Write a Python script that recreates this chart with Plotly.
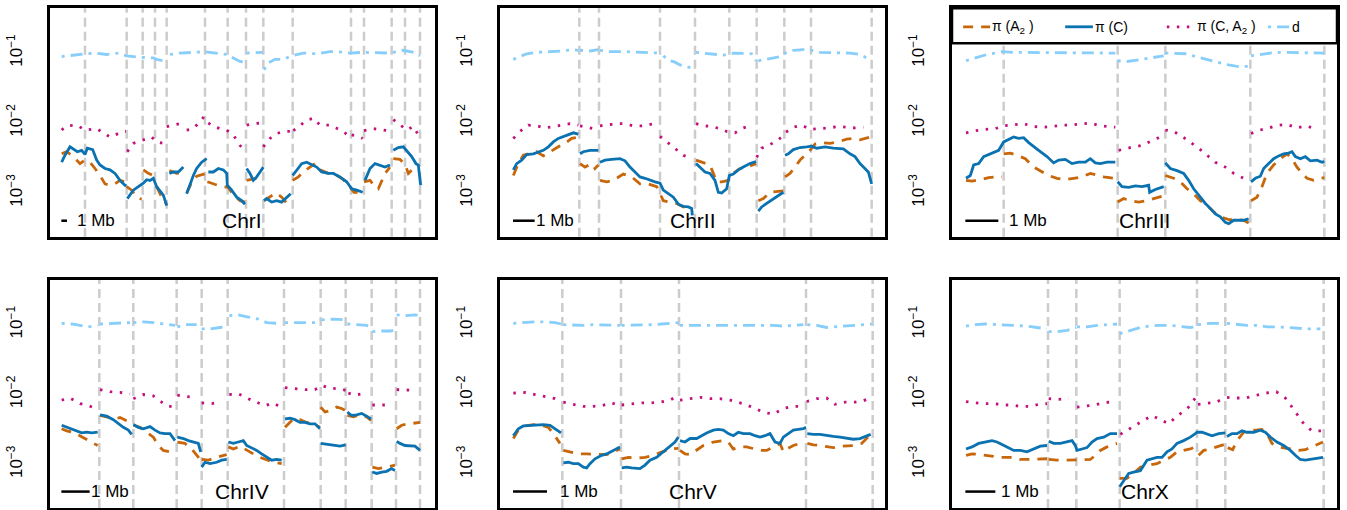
import plotly.graph_objects as go

# ---------------------------------------------------------------
# Data: genomic position (scaled units, see scale bars) and log10 values
# each series is a list of contiguous segments of (position, log10 value)
# ---------------------------------------------------------------
chromosomes = ["ChrI", "ChrII", "ChrIII", "ChrIV", "ChrV", "ChrX"]

chrI_breaks = [255, 380, 428, 465, 500, 615, 683, 738, 790, 878, 1053, 1092, 1175, 1215, 1260]
chrI_piA2 = [
    [(185, -2.44), (200, -2.41), (220, -2.48), (240, -2.58), (255, -2.53), (270, -2.56), (285, -2.65), (300, -2.75), (315, -2.87), (330, -2.89), (345, -2.87), (360, -2.82), (375, -2.84)],
    [(380, -2.91), (395, -2.96), (410, -3.06), (425, -3.09)],
    [(430, -2.67), (445, -2.72), (460, -2.75)],
    [(470, -2.91), (485, -3.06), (500, -3.16)],
    [(508, -2.68), (530, -2.72), (550, -2.71)],
    [(560, -3.00), (575, -2.85), (590, -2.76), (605, -2.74), (620, -2.72)],
    [(622, -2.84), (645, -2.88), (665, -2.91), (685, -2.92), (700, -3.03), (720, -3.11), (735, -3.13)],
    [(740, -2.82), (765, -2.79), (790, -2.77)],
    [(792, -3.11), (810, -3.06), (828, -3.00), (845, -3.06), (860, -3.15), (870, -3.20)],
    [(878, -2.82), (895, -2.77), (915, -2.68), (945, -2.58), (960, -2.67), (985, -2.72), (1005, -2.73), (1030, -2.81), (1050, -2.91), (1062, -2.99), (1088, -2.99)],
    [(1092, -2.84), (1110, -2.82), (1125, -2.91), (1135, -2.94), (1155, -2.72), (1170, -2.63)],
    [(1180, -2.51), (1200, -2.52), (1215, -2.59), (1225, -2.72), (1240, -2.65), (1255, -2.65)],
]
chrI_piC = [
    [(185, -2.56), (195, -2.46), (210, -2.34), (222, -2.38), (232, -2.41), (245, -2.39), (255, -2.45), (262, -2.36), (278, -2.38), (290, -2.53), (300, -2.60), (315, -2.65), (330, -2.67), (345, -2.72), (360, -2.82), (375, -2.89), (380, -2.89)],
    [(382, -3.08), (390, -3.03), (400, -2.96), (415, -2.91), (430, -2.86), (440, -2.81), (450, -2.82), (460, -2.79), (465, -2.84), (470, -2.91), (480, -2.97), (490, -3.03), (500, -3.18)],
    [(508, -2.72), (520, -2.70), (535, -2.70), (550, -2.63)],
    [(560, -3.01), (570, -2.87), (580, -2.75), (590, -2.65), (605, -2.56), (620, -2.51)],
    [(625, -2.70), (640, -2.70), (655, -2.65), (670, -2.67), (680, -2.72), (682, -2.89), (695, -2.96), (710, -3.06), (725, -3.11), (735, -3.16)],
    [(740, -2.65), (750, -2.72), (760, -2.82), (770, -2.77), (780, -2.70), (790, -2.63)],
    [(792, -3.11), (800, -3.08), (815, -3.13), (830, -3.11), (845, -3.13), (860, -3.06), (872, -3.01)],
    [(878, -2.75), (890, -2.67), (905, -2.58), (920, -2.56), (935, -2.60), (950, -2.63), (965, -2.70), (985, -2.72), (1000, -2.72), (1020, -2.77), (1040, -2.84), (1055, -2.94), (1070, -2.96), (1088, -2.99)],
    [(1095, -2.82), (1110, -2.65), (1125, -2.58), (1140, -2.60), (1155, -2.63), (1170, -2.60)],
    [(1180, -2.39), (1195, -2.35), (1210, -2.34), (1222, -2.41), (1235, -2.48), (1248, -2.58), (1255, -2.60), (1262, -2.89)],
]
chrI_piCA2 = [
    [(185, -2.10), (200, -2.04), (230, -2.03), (255, -2.10), (290, -2.08), (330, -2.20), (370, -2.12), (378, -2.12)],
    [(382, -2.41), (400, -2.29), (430, -2.24), (455, -2.20), (470, -2.27), (490, -2.29)],
    [(500, -2.05), (520, -2.03), (550, -2.00)],
    [(560, -2.10), (580, -2.08), (600, -1.98), (612, -1.91)],
    [(625, -2.00), (640, -2.05), (660, -2.08), (680, -2.10), (700, -2.17), (720, -2.32), (735, -2.39)],
    [(740, -2.03), (760, -2.01), (785, -2.00)],
    [(790, -2.34), (810, -2.22), (830, -2.15), (850, -2.12), (870, -2.12)],
    [(880, -2.11), (900, -2.03), (920, -1.96), (940, -1.93), (960, -2.03), (990, -2.03), (1010, -2.08), (1030, -2.12), (1050, -2.20)],
    [(1055, -2.17), (1075, -2.19), (1088, -2.22)],
    [(1092, -2.11), (1120, -2.08), (1150, -2.10), (1175, -2.12)],
    [(1180, -1.95), (1200, -2.03), (1220, -2.10), (1240, -2.05), (1255, -2.17)],
]
chrI_d = [
    [(185, -1.05), (230, -1.02), (255, -1.01), (285, -1.00), (320, -1.02), (355, -1.00), (380, -1.04), (420, -1.06), (460, -1.07), (470, -1.09), (500, -1.12)],
    [(510, -1.02), (540, -1.00), (580, -0.99), (615, -0.98), (660, -1.01), (683, -1.02), (700, -1.07), (720, -1.12), (735, -1.13)],
    [(740, -1.00), (770, -0.99), (788, -0.99)],
    [(792, -1.24), (805, -1.14), (825, -1.09), (850, -1.09), (875, -1.04), (910, -1.00), (950, -1.01), (990, -0.98), (1010, -0.98), (1050, -1.00), (1088, -0.99), (1130, -0.99), (1170, -1.00), (1210, -0.96), (1240, -0.99), (1260, -1.04)],
]

chrII_breaks = [388, 447, 630, 735, 838, 920, 1003, 1083, 1265]
chrII_piA2 = [
    [(190, -2.75), (205, -2.58), (220, -2.46), (240, -2.44), (260, -2.41), (280, -2.47), (300, -2.41), (325, -2.34), (345, -2.29), (365, -2.22), (385, -2.20)],
    [(390, -2.58), (405, -2.63), (425, -2.58), (435, -2.65), (445, -2.60)],
    [(450, -2.82), (470, -2.84), (490, -2.82), (520, -2.73), (545, -2.77), (570, -2.87), (595, -2.87), (620, -2.91), (640, -3.11), (660, -3.13), (680, -3.15), (700, -3.20), (725, -3.22)],
    [(738, -2.53), (755, -2.56), (780, -2.60), (790, -2.72), (800, -2.84), (815, -2.84), (835, -2.82), (850, -2.72), (870, -2.65), (890, -2.63), (918, -2.58)],
    [(925, -3.11), (940, -3.08), (960, -2.99), (985, -2.98), (1000, -2.97)],
    [(1005, -2.77), (1020, -2.72), (1035, -2.63), (1050, -2.53), (1065, -2.46), (1080, -2.39), (1095, -2.30), (1115, -2.28), (1140, -2.29), (1165, -2.27), (1190, -2.23), (1210, -2.22), (1230, -2.24), (1250, -2.22), (1262, -2.20)],
]
chrII_piC = [
    [(190, -2.67), (200, -2.58), (215, -2.53), (230, -2.45), (250, -2.44), (265, -2.41), (280, -2.39), (295, -2.34), (310, -2.27), (325, -2.22), (340, -2.19), (355, -2.16), (370, -2.14), (385, -2.16)],
    [(390, -2.44), (400, -2.41), (420, -2.39), (445, -2.39)],
    [(450, -2.56), (465, -2.53), (485, -2.52), (510, -2.51), (525, -2.54), (540, -2.63), (555, -2.70), (570, -2.77), (585, -2.79), (600, -2.82), (615, -2.84), (630, -2.86), (640, -2.96), (655, -3.01), (670, -3.06), (685, -3.16), (700, -3.19), (715, -3.20), (725, -3.22), (727, -3.32)],
    [(738, -2.58), (750, -2.63), (765, -2.70), (780, -2.72), (795, -2.82), (805, -2.99), (815, -3.00), (830, -2.94), (838, -2.75), (850, -2.73), (865, -2.67), (880, -2.63), (900, -2.58), (918, -2.55)],
    [(925, -3.26), (935, -3.20), (950, -3.15), (965, -3.10), (980, -3.05), (1000, -2.99)],
    [(1005, -2.46), (1015, -2.44), (1030, -2.38), (1050, -2.35), (1070, -2.34), (1085, -2.33), (1100, -2.36), (1125, -2.34), (1150, -2.36), (1180, -2.37), (1200, -2.44), (1215, -2.48), (1230, -2.58), (1245, -2.65), (1255, -2.70), (1265, -2.87)],
]
chrII_piCA2 = [
    [(190, -2.22), (210, -2.12), (235, -2.03), (260, -2.04), (285, -2.07), (310, -2.05), (335, -2.03), (360, -2.01), (385, -2.03)],
    [(390, -2.04), (410, -2.06), (440, -2.09)],
    [(450, -2.04), (475, -2.02), (500, -2.01), (525, -2.01), (550, -2.04), (575, -2.04), (600, -2.02), (625, -2.00)],
    [(630, -2.19), (655, -2.29), (680, -2.38), (700, -2.46), (725, -2.52)],
    [(738, -2.01), (760, -2.04), (785, -2.05), (810, -2.08), (830, -2.12), (855, -2.14), (880, -2.07), (905, -2.03)],
    [(920, -2.49), (935, -2.36), (955, -2.32), (975, -2.27), (995, -2.20), (1005, -2.14), (1030, -2.06), (1055, -2.03), (1080, -2.09), (1110, -2.08), (1135, -2.07), (1165, -2.05), (1190, -2.06), (1215, -2.07), (1240, -2.06)],
]
chrII_d = [
    [(190, -1.09), (210, -1.05), (230, -1.01), (260, -0.99), (300, -0.98), (335, -0.97), (370, -0.95), (385, -0.96)],
    [(390, -0.96), (420, -0.97), (445, -0.95)],
    [(450, -0.96), (480, -0.98), (530, -0.98), (570, -0.99), (600, -0.99), (630, -1.00)],
    [(640, -1.04), (655, -1.10), (675, -1.13), (690, -1.17), (705, -1.19), (722, -1.21)],
    [(738, -0.99), (760, -1.00), (790, -1.01), (820, -1.03), (850, -1.00), (880, -1.00), (905, -1.01), (918, -1.11)],
    [(925, -1.11), (945, -1.09), (970, -1.06), (990, -1.05), (1005, -1.00), (1030, -0.96), (1060, -0.95), (1085, -0.96), (1110, -0.99), (1140, -0.99), (1170, -0.99), (1200, -1.00), (1230, -1.02), (1262, -1.10)],
]

chrIII_breaks = [310, 652, 795, 1050, 1272]
chrIII_piA2 = [
    [(197, -2.82), (215, -2.83), (240, -2.81), (265, -2.78), (290, -2.77), (305, -2.77)],
    [(310, -2.44), (330, -2.43), (350, -2.46), (375, -2.51), (400, -2.63), (425, -2.70), (445, -2.75), (470, -2.79), (495, -2.81), (520, -2.79), (545, -2.77), (570, -2.72), (590, -2.75), (610, -2.77), (640, -2.79), (648, -2.78)],
    [(652, -3.13), (670, -3.08), (690, -3.11), (715, -3.13), (740, -3.11), (760, -3.08), (780, -3.06), (790, -3.04)],
    [(795, -2.75), (820, -2.79), (840, -2.84), (860, -2.94), (880, -3.01), (900, -3.11), (920, -3.18), (940, -3.27), (960, -3.34), (985, -3.38), (1010, -3.38), (1030, -3.39), (1045, -3.43)],
    [(1052, -3.11), (1070, -3.06), (1085, -2.91), (1100, -2.72), (1120, -2.60), (1140, -2.51), (1160, -2.44), (1175, -2.51), (1190, -2.63), (1205, -2.72), (1220, -2.79), (1240, -2.82), (1260, -2.79), (1272, -2.78)],
]
chrIII_piC = [
    [(197, -2.79), (210, -2.75), (220, -2.60), (235, -2.58), (250, -2.48), (265, -2.45), (280, -2.43), (295, -2.39), (310, -2.27), (325, -2.23), (340, -2.20), (355, -2.22), (370, -2.21), (385, -2.28), (400, -2.34), (420, -2.41), (440, -2.48), (460, -2.57), (475, -2.53), (495, -2.52), (515, -2.58), (535, -2.56), (555, -2.56), (570, -2.51), (585, -2.57), (600, -2.58), (620, -2.56), (645, -2.56)],
    [(652, -2.84), (665, -2.91), (685, -2.92), (705, -2.90), (725, -2.91), (745, -2.89), (748, -2.99), (765, -2.95), (790, -2.91)],
    [(795, -2.57), (810, -2.65), (830, -2.68), (850, -2.72), (865, -2.82), (880, -2.94), (900, -3.06), (915, -3.15), (930, -3.22), (945, -3.30), (960, -3.34), (975, -3.42), (985, -3.44), (1000, -3.39), (1015, -3.39), (1030, -3.39), (1045, -3.37)],
    [(1052, -2.84), (1065, -2.79), (1080, -2.76), (1090, -2.65), (1105, -2.58), (1120, -2.51), (1135, -2.47), (1150, -2.44), (1165, -2.43), (1175, -2.41), (1185, -2.48), (1200, -2.51), (1215, -2.48), (1230, -2.54), (1250, -2.53), (1265, -2.56), (1272, -2.55)],
]
chrIII_piCA2 = [
    [(197, -2.14), (225, -2.11), (255, -2.09), (285, -2.08), (310, -2.04), (340, -2.03), (370, -2.01), (400, -2.05), (430, -2.06), (455, -2.05), (485, -2.03), (510, -2.03), (540, -2.02), (570, -2.00), (600, -2.04), (630, -2.05), (645, -2.06)],
    [(655, -2.39), (680, -2.36), (700, -2.34), (725, -2.32), (750, -2.27), (770, -2.22), (790, -2.17)],
    [(795, -2.10), (820, -2.12), (845, -2.19), (870, -2.27), (895, -2.36), (920, -2.46), (945, -2.56), (975, -2.63), (1000, -2.72), (1030, -2.79), (1045, -2.83)],
    [(1052, -2.15), (1080, -2.10), (1105, -2.07), (1135, -2.03), (1160, -2.02), (1190, -2.07), (1215, -2.04), (1245, -2.08)],
]
chrIII_d = [
    [(197, -1.11), (230, -1.06), (260, -1.02), (285, -1.00), (305, -0.98), (340, -0.99), (370, -0.99), (400, -1.00), (430, -0.99), (470, -1.00), (500, -0.99), (540, -0.99), (580, -0.99), (620, -0.99), (645, -1.00)],
    [(652, -1.11), (680, -1.12), (710, -1.10), (740, -1.08), (765, -1.06), (790, -1.04)],
    [(795, -1.00), (830, -1.00), (860, -1.01), (885, -1.05), (910, -1.08), (935, -1.12), (960, -1.14), (985, -1.17), (1010, -1.19), (1045, -1.19)],
    [(1052, -1.04), (1080, -1.02), (1110, -1.00), (1140, -0.99), (1170, -0.99), (1200, -0.99), (1240, -0.99), (1272, -1.00)],
]

chrIV_breaks = [298, 400, 530, 605, 683, 852, 962, 1037, 1115, 1188, 1260]
chrIV_piA2 = [
    [(185, -2.49), (200, -2.52), (220, -2.54), (240, -2.59), (255, -2.63), (275, -2.68), (293, -2.73)],
    [(300, -2.30), (320, -2.32), (345, -2.35), (360, -2.33), (375, -2.36), (395, -2.41)],
    [(400, -2.44), (420, -2.47), (440, -2.54), (460, -2.61), (475, -2.73), (490, -2.80), (510, -2.82), (528, -2.82)],
    [(532, -2.68), (555, -2.70), (575, -2.78), (595, -2.90), (602, -2.94)],
    [(605, -2.93), (625, -2.94), (650, -2.90), (680, -2.86)],
    [(685, -2.75), (700, -2.78), (720, -2.74), (740, -2.80), (760, -2.85), (780, -2.90), (800, -2.94), (820, -2.97), (845, -2.99)],
    [(855, -2.47), (865, -2.42), (880, -2.35), (900, -2.36), (920, -2.40), (940, -2.42), (960, -2.47)],
    [(962, -2.18), (975, -2.25), (990, -2.23), (1010, -2.18), (1025, -2.20), (1037, -2.23)],
    [(1042, -2.30), (1060, -2.32), (1080, -2.29), (1100, -2.32), (1113, -2.37)],
    [(1117, -3.04), (1135, -3.06), (1160, -3.04), (1185, -3.01)],
    [(1190, -2.49), (1205, -2.44), (1225, -2.42), (1245, -2.41), (1260, -2.40)],
]
chrIV_piC = [
    [(185, -2.44), (200, -2.47), (215, -2.49), (230, -2.52), (245, -2.55), (260, -2.54), (275, -2.55), (293, -2.54)],
    [(300, -2.29), (320, -2.31), (340, -2.36), (355, -2.42), (370, -2.47), (385, -2.51), (395, -2.57)],
    [(400, -2.43), (415, -2.47), (430, -2.49), (450, -2.46), (465, -2.51), (480, -2.55), (495, -2.56), (510, -2.56), (525, -2.66)],
    [(532, -2.61), (550, -2.63), (565, -2.66), (580, -2.68), (595, -2.70), (602, -2.82)],
    [(605, -3.04), (615, -2.97), (630, -2.99), (650, -2.97), (665, -2.94), (680, -2.93)],
    [(685, -2.68), (700, -2.70), (715, -2.68), (730, -2.66), (740, -2.73), (755, -2.76), (770, -2.80), (785, -2.85), (800, -2.90), (815, -2.94), (830, -2.93), (845, -2.94)],
    [(855, -2.35), (870, -2.34), (885, -2.36), (900, -2.40), (915, -2.40), (930, -2.42), (945, -2.42), (960, -2.49)],
    [(962, -2.70), (980, -2.71), (1000, -2.73), (1020, -2.74), (1037, -2.72)],
    [(1042, -2.25), (1055, -2.30), (1070, -2.29), (1085, -2.27), (1100, -2.31), (1113, -2.35)],
    [(1117, -3.11), (1130, -3.13), (1145, -3.11), (1160, -3.10), (1175, -3.06), (1185, -3.09)],
    [(1190, -2.67), (1200, -2.70), (1215, -2.73), (1230, -2.74), (1245, -2.74), (1260, -2.80)],
]
chrIV_piCA2 = [
    [(185, -2.08), (210, -2.05), (240, -2.13), (265, -2.16), (293, -2.21)],
    [(300, -1.93), (330, -1.96), (360, -1.97), (390, -1.99)],
    [(400, -2.06), (430, -2.00), (460, -2.02), (500, -2.16), (525, -2.18)],
    [(532, -2.01), (560, -2.03), (590, -2.04)],
    [(605, -2.12), (635, -2.13), (660, -2.11)],
    [(688, -2.00), (715, -1.99), (745, -2.06), (770, -2.11), (795, -2.16), (820, -2.12), (845, -2.19)],
    [(855, -1.90), (890, -1.92), (915, -1.93), (945, -1.93), (965, -1.87), (990, -1.91), (1020, -1.92), (1037, -1.94)],
    [(1045, -1.98), (1065, -2.01), (1095, -1.98)],
    [(1117, -2.15), (1140, -2.15), (1170, -2.15)],
    [(1190, -1.93), (1215, -1.93), (1245, -1.94)],
]
chrIV_d = [
    [(185, -0.98), (215, -0.99), (240, -1.01), (265, -1.03), (293, -1.01)],
    [(300, -0.99), (330, -0.98), (360, -0.98), (390, -0.97)],
    [(400, -0.97), (430, -0.96), (460, -0.97), (490, -0.99), (525, -1.01)],
    [(532, -1.03), (560, -1.00), (590, -1.00)],
    [(605, -1.06), (630, -1.06), (660, -1.04), (680, -1.03)],
    [(688, -0.87), (715, -0.86), (745, -0.89), (775, -0.92), (800, -0.97), (830, -0.98), (845, -0.97)],
    [(855, -0.97), (890, -0.97), (920, -0.98), (950, -0.97), (962, -0.93)],
    [(965, -0.93), (1000, -0.92), (1037, -0.93)],
    [(1042, -0.99), (1070, -1.00), (1100, -1.01), (1113, -1.03)],
    [(1117, -1.10), (1140, -1.09), (1170, -1.09), (1185, -1.08)],
    [(1190, -0.86), (1215, -0.87), (1245, -0.86), (1255, -0.87)],
]

chrV_breaks = [337, 513, 687, 1068, 1268]
chrV_piA2 = [
    [(190, -2.63), (205, -2.51), (225, -2.45), (250, -2.43), (275, -2.44), (295, -2.47), (310, -2.56), (330, -2.70)],
    [(340, -2.80), (360, -2.82), (385, -2.85), (410, -2.85), (440, -2.85), (470, -2.86), (500, -2.80), (510, -2.78)],
    [(515, -2.92), (535, -2.90), (560, -2.91), (585, -2.90), (610, -2.87), (635, -2.82), (660, -2.78), (685, -2.77)],
    [(690, -2.80), (705, -2.85), (720, -2.86), (740, -2.80), (760, -2.73), (790, -2.68), (820, -2.66), (835, -2.68), (850, -2.78), (870, -2.75), (890, -2.75), (915, -2.78), (935, -2.80), (950, -2.80), (970, -2.75), (990, -2.70), (1000, -2.82), (1010, -2.78), (1030, -2.73), (1050, -2.70), (1065, -2.68)],
    [(1072, -2.70), (1090, -2.72), (1110, -2.73), (1130, -2.75), (1150, -2.76), (1170, -2.74), (1190, -2.73), (1210, -2.73), (1235, -2.70), (1262, -2.57)],
]
chrV_piC = [
    [(190, -2.59), (205, -2.49), (220, -2.45), (240, -2.44), (260, -2.43), (280, -2.43), (300, -2.44), (315, -2.49), (333, -2.55)],
    [(340, -2.98), (355, -2.97), (370, -2.99), (385, -2.99), (400, -3.04), (410, -3.05), (420, -2.99), (435, -2.92), (455, -2.87), (470, -2.85), (490, -2.80), (510, -2.75)],
    [(515, -3.05), (530, -3.04), (545, -3.05), (560, -3.05), (570, -3.06), (585, -3.01), (600, -2.94), (620, -2.90), (640, -2.82), (660, -2.75), (675, -2.68), (685, -2.61)],
    [(690, -2.66), (705, -2.68), (720, -2.63), (740, -2.63), (755, -2.59), (770, -2.55), (790, -2.51), (805, -2.50), (820, -2.51), (835, -2.56), (850, -2.59), (865, -2.54), (880, -2.56), (900, -2.56), (915, -2.59), (930, -2.61), (945, -2.59), (960, -2.56), (975, -2.68), (990, -2.70), (1000, -2.61), (1015, -2.56), (1030, -2.51), (1045, -2.50), (1060, -2.49), (1068, -2.47)],
    [(1072, -2.56), (1090, -2.57), (1110, -2.57), (1130, -2.59), (1150, -2.60), (1170, -2.61), (1190, -2.63), (1210, -2.64), (1230, -2.63), (1250, -2.59), (1262, -2.57)],
]
chrV_piCA2 = [
    [(190, -1.98), (225, -1.97), (255, -2.00), (285, -2.03), (315, -2.06), (333, -2.10)],
    [(340, -2.11), (370, -2.14), (400, -2.17), (425, -2.17), (455, -2.16), (485, -2.12), (510, -2.16)],
    [(515, -2.15), (545, -2.13), (575, -2.12), (600, -2.12), (630, -2.11), (660, -2.08), (685, -2.01)],
    [(690, -2.08), (720, -2.06), (750, -2.04), (780, -2.06), (810, -2.06), (840, -2.08), (860, -2.11), (885, -2.14), (915, -2.20), (945, -2.26), (970, -2.28), (1000, -2.20), (1030, -2.17), (1055, -2.17)],
    [(1070, -2.10), (1100, -2.06), (1130, -2.05), (1155, -2.14), (1185, -2.11), (1215, -2.11), (1240, -2.09), (1265, -2.04)],
]
chrV_d = [
    [(190, -0.98), (220, -0.97), (255, -0.96), (285, -0.96), (315, -0.97), (333, -0.99)],
    [(340, -1.00), (370, -1.01), (400, -1.01), (430, -1.00), (460, -1.00), (490, -1.00), (510, -1.01)],
    [(515, -1.01), (545, -1.01), (575, -1.01), (605, -1.00), (635, -0.99), (665, -0.98), (685, -0.97)],
    [(690, -1.01), (720, -1.01), (755, -1.01), (790, -1.00), (820, -1.00), (850, -1.00), (880, -1.01), (910, -1.01), (940, -1.01), (970, -1.01), (1000, -1.02), (1030, -1.01), (1060, -1.00)],
    [(1072, -1.00), (1100, -1.01), (1130, -1.04), (1160, -1.03), (1190, -1.02), (1220, -1.01), (1265, -0.99)],
]

chrX_breaks = [443, 528, 658, 890, 975, 1270]
chrX_piA2 = [
    [(197, -2.87), (215, -2.85), (240, -2.86), (270, -2.88), (300, -2.90), (330, -2.90), (360, -2.93), (390, -2.93), (420, -2.93), (440, -2.92)],
    [(445, -2.93), (470, -2.94), (500, -2.94), (530, -2.94), (555, -2.94), (570, -2.93), (585, -2.87), (600, -2.80), (620, -2.75), (650, -2.70)],
    [(658, -3.20), (680, -3.20), (700, -3.13), (720, -3.04), (745, -3.01), (770, -2.99), (790, -2.94), (810, -2.90), (830, -2.82), (850, -2.80), (870, -2.78), (885, -2.75)],
    [(895, -2.87), (910, -2.80), (930, -2.78), (950, -2.75), (965, -2.73), (975, -2.71)],
    [(982, -2.76), (997, -2.79), (1010, -2.66), (1030, -2.54), (1050, -2.52), (1070, -2.51), (1085, -2.50), (1100, -2.56), (1115, -2.70), (1135, -2.75), (1155, -2.77), (1175, -2.79), (1195, -2.80), (1215, -2.79), (1240, -2.74), (1268, -2.68)],
]
chrX_piC = [
    [(197, -2.78), (215, -2.75), (235, -2.70), (255, -2.68), (275, -2.66), (290, -2.68), (305, -2.71), (320, -2.75), (340, -2.80), (360, -2.80), (380, -2.82), (400, -2.78), (420, -2.74), (440, -2.73)],
    [(445, -2.67), (460, -2.70), (480, -2.70), (500, -2.68), (515, -2.66), (525, -2.73), (530, -2.80), (545, -2.78), (560, -2.76), (575, -2.68), (590, -2.63), (610, -2.61), (630, -2.56), (650, -2.56)],
    [(658, -3.32), (670, -3.23), (685, -3.13), (700, -3.11), (720, -3.09), (740, -2.94), (755, -2.92), (770, -2.90), (785, -2.90), (800, -2.82), (815, -2.78), (830, -2.70), (850, -2.66), (870, -2.61), (885, -2.56), (890, -2.54), (905, -2.54), (920, -2.56), (935, -2.59), (955, -2.56), (975, -2.55)],
    [(980, -2.60), (995, -2.56), (1010, -2.56), (1025, -2.52), (1040, -2.54), (1060, -2.54), (1080, -2.51), (1095, -2.54), (1110, -2.61), (1130, -2.68), (1150, -2.73), (1170, -2.80), (1185, -2.87), (1200, -2.93), (1215, -2.94), (1230, -2.93), (1250, -2.92), (1268, -2.90)],
]
chrX_piCA2 = [
    [(197, -2.10), (225, -2.12), (255, -2.13), (280, -2.13), (310, -2.15), (335, -2.15), (360, -2.17), (390, -2.17), (415, -2.14), (440, -2.13)],
    [(445, -2.06), (475, -2.07), (505, -2.05)],
    [(530, -2.18), (555, -2.17), (580, -2.15), (610, -2.12), (640, -2.10)],
    [(660, -2.57), (680, -2.51), (705, -2.44), (730, -2.37), (755, -2.30), (780, -2.36), (805, -2.42), (825, -2.33), (845, -2.25), (865, -2.18), (888, -2.03)],
    [(893, -2.14), (920, -2.13), (948, -2.11), (972, -2.05)],
    [(980, -2.04), (1005, -2.05), (1035, -2.05), (1065, -2.01), (1095, -1.98), (1128, -1.96), (1155, -2.05), (1175, -2.18), (1195, -2.31), (1212, -2.43), (1235, -2.52), (1262, -2.52)],
]
chrX_d = [
    [(197, -1.02), (225, -1.00), (255, -0.99), (290, -1.00), (320, -1.01), (350, -1.01), (380, -1.02), (410, -1.04), (440, -1.06)],
    [(445, -1.10), (470, -1.10), (500, -1.08), (528, -1.04)],
    [(530, -1.03), (560, -1.03), (590, -1.01), (620, -1.00), (650, -0.99)],
    [(658, -1.13), (680, -1.10), (700, -1.07), (720, -1.04), (745, -1.02), (775, -1.01), (810, -1.01), (840, -1.03), (870, -1.04), (888, -1.02)],
    [(893, -1.00), (930, -0.98), (960, -0.98), (975, -0.99)],
    [(980, -0.98), (1010, -1.00), (1040, -1.01), (1070, -1.01), (1100, -1.03), (1130, -1.03), (1160, -1.04), (1190, -1.06), (1220, -1.06), (1260, -1.06)],
]

# 1 Mb scale bar (start, end) in the same position units
scale_bars = [(184, 201), (189, 254), (195, 294), (184, 269), (189, 291), (195, 285)]

series_names = ["π (A<sub>2</sub> )", "π (C)", "π (C, A<sub>2</sub> )", "d"]

all_data = [
    (chrI_piA2, chrI_piC, chrI_piCA2, chrI_d, chrI_breaks),
    (chrII_piA2, chrII_piC, chrII_piCA2, chrII_d, chrII_breaks),
    (chrIII_piA2, chrIII_piC, chrIII_piCA2, chrIII_d, chrIII_breaks),
    (chrIV_piA2, chrIV_piC, chrIV_piCA2, chrIV_d, chrIV_breaks),
    (chrV_piA2, chrV_piC, chrV_piCA2, chrV_d, chrV_breaks),
    (chrX_piA2, chrX_piC, chrX_piCA2, chrX_d, chrX_breaks),
]

# ---------------------------------------------------------------
# Styling / layout
# ---------------------------------------------------------------
W, H = 1347, 510
FONT = "Liberation Sans, Arial, Helvetica, sans-serif"
colors = ["#C8670A", "#0A72B0", "#C4107A", "#87CEFA"]
dashes = ["10px,8px", "solid", "2.5px,7.5px", "3px,6px,12px,6px"]
LW = 2.8

col_px = [(50, 435), (500, 885), (952, 1337)]
row_px = [(8.3, 236.7), (280, 508)]
x_left = [150, 150, 155, 150, 150, 155]
XSPAN = 1155
YRANGE = [-3.625, -0.36]
label_y = [0.070, 0.072]
mb_text_x = [224, 252, 319, 267, 325, 295]


def flatten(segs):
    xs, ys = [], []
    for seg in segs:
        for x, lv in seg:
            xs.append(x)
            ys.append(10 ** lv)
        xs.append(None)
        ys.append(None)
    return xs, ys


fig = go.Figure()
shapes = []
annotations = []
layout_axes = {}

for i, (name, dat) in enumerate(zip(chromosomes, all_data)):
    r, c = divmod(i, 3)
    k = i + 1
    xa = "x" if k == 1 else f"x{k}"
    ya = "y" if k == 1 else f"y{k}"
    xdom = [col_px[c][0] / W, col_px[c][1] / W]
    ydom = [1 - row_px[r][1] / H, 1 - row_px[r][0] / H]
    x0 = x_left[i]

    layout_axes[f"xaxis{'' if k == 1 else k}"] = dict(
        domain=xdom, range=[x0, x0 + XSPAN], anchor=ya,
        showticklabels=False, ticks="", showgrid=False, zeroline=False,
        showline=True, mirror=True, linecolor="black", linewidth=2.5,
    )
    layout_axes[f"yaxis{'' if k == 1 else k}"] = dict(
        domain=ydom, type="log", range=YRANGE, anchor=xa,
        tickmode="array", tickvals=[1e-3, 1e-2, 1e-1],
        ticktext=["10<sup>−3</sup>", "10<sup>−2</sup>", "10<sup>−1</sup>"],
        tickangle=-90, ticks="", ticklabelstandoff=18,
        tickfont=dict(family=FONT, size=17, color="black"),
        showgrid=False, zeroline=False,
        showline=True, mirror=True, linecolor="black", linewidth=2.5,
    )

    # segment boundaries
    for b in dat[4]:
        shapes.append(dict(type="line", xref=xa, yref=f"{ya} domain", x0=b, x1=b, y0=0, y1=1,
                           line=dict(color="#CCCCCC", width=2.5, dash="9px,5px"), layer="below"))

    for j in range(4):
        xs, ys = flatten(dat[j])
        fig.add_trace(go.Scatter(
            x=xs, y=ys, mode="lines", xaxis=xa, yaxis=ya, showlegend=False,
            name=series_names[j], connectgaps=False,
            line=dict(color=colors[j], width=LW, dash=dashes[j]),
            hoverinfo="skip",
        ))

    # scale bar
    sb = scale_bars[i]
    shapes.append(dict(type="line", xref=xa, yref=f"{ya} domain", x0=sb[0], x1=sb[1],
                       y0=label_y[r], y1=label_y[r], line=dict(color="black", width=2.5)))
    annotations.append(dict(x=mb_text_x[i], y=label_y[r], xref=xa, yref=f"{ya} domain",
                            text="1 Mb", showarrow=False, xanchor="left", yanchor="middle",
                            font=dict(family=FONT, size=17, color="black")))
    annotations.append(dict(x=0.5, y=label_y[r], xref=f"{xa} domain", yref=f"{ya} domain",
                            text=name, showarrow=False, xanchor="center", yanchor="middle",
                            font=dict(family=FONT, size=21, color="black")))

# legend box inside the ChrIII panel
shapes.append(dict(type="rect", xref="x3 domain", yref="y3 domain", x0=0, x1=1, y0=0.847, y1=1,
                   fillcolor="white", line=dict(color="black", width=2.5), layer="above"))
leg_y = 0.919
leg_samples = [(0.029, 0.099), (0.294, 0.366), (0.558, 0.631), (0.821, 0.878)]
for j, (a, b) in enumerate(leg_samples):
    shapes.append(dict(type="line", xref="x3 domain", yref="y3 domain", x0=a, x1=b, y0=leg_y, y1=leg_y,
                       line=dict(color=colors[j], width=LW, dash=dashes[j]), layer="above"))
    annotations.append(dict(x=b, y=leg_y, xref="x3 domain", yref="y3 domain", text=series_names[j],
                            showarrow=False, xanchor="left", yanchor="middle",
                            font=dict(family=FONT, size=14, color="black")))

fig.update_layout(
    width=W, height=H, margin=dict(l=0, r=0, t=0, b=0),
    paper_bgcolor="white", plot_bgcolor="white",
    shapes=shapes, annotations=annotations, showlegend=False,
    **layout_axes,
)

fig.write_html("out.html")
